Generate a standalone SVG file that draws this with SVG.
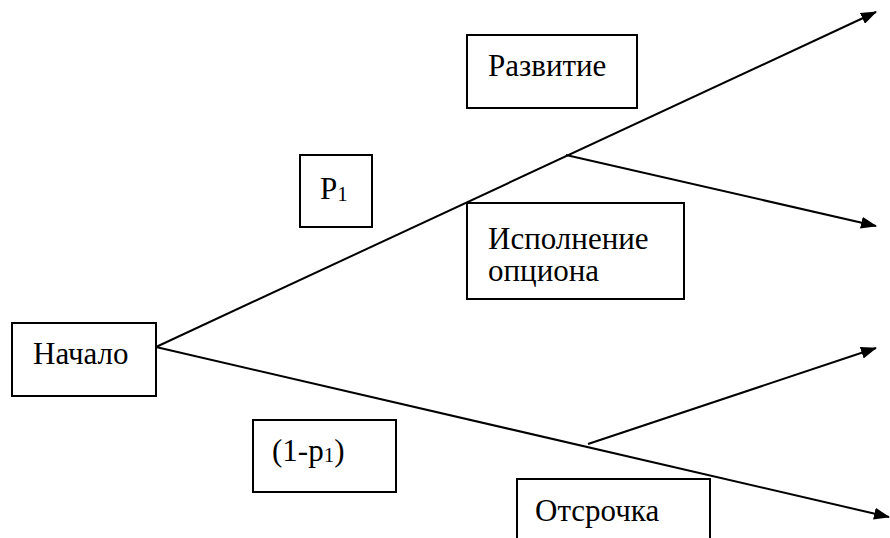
<svg xmlns="http://www.w3.org/2000/svg" width="890" height="538" viewBox="0 0 890 538">
<style>
.box{fill:#fff;stroke:#000;stroke-width:2}
.t{font-family:'Liberation Serif','Times New Roman',serif;font-size:31px;fill:#000}
.c{stroke:#000;stroke-width:2;fill:none}
</style>
<defs>
<marker id="ah" viewBox="0 0 16 12" refX="15" refY="6" markerWidth="16" markerHeight="12" markerUnits="userSpaceOnUse" orient="auto">
<path d="M0,0 L16,6 L0,12 z" fill="#000"/>
</marker>
</defs>
<rect width="890" height="538" fill="#fff"/>
<g id="connectors">
<line class="c" x1="156" y1="347" x2="876" y2="12" marker-end="url(#ah)"/>
<line class="c" x1="566" y1="155" x2="876" y2="226" marker-end="url(#ah)"/>
<line class="c" x1="156" y1="347" x2="889" y2="517" marker-end="url(#ah)"/>
<line class="c" x1="588" y1="444" x2="876" y2="348" marker-end="url(#ah)"/>
</g>
<g id="start">
<rect class="box" x="12" y="323" width="144" height="73"/>
<text class="t" x="33" y="364">Начало</text>
</g>
<g id="razvitie">
<rect class="box" x="467" y="35" width="170" height="73"/>
<text class="t" x="488" y="76">Развитие</text>
</g>
<g id="ispolnenie">
<rect class="box" x="467" y="203" width="217" height="96"/>
<text class="t" x="488" y="249">Исполнение</text>
<text class="t" x="488" y="281">опциона</text>
</g>
<g id="p1">
<rect class="box" x="300" y="155" width="72" height="72"/>
<text class="t" x="320" y="199">P<tspan font-size="21" dy="2">1</tspan></text>
</g>
<g id="q1">
<rect class="box" x="253" y="420" width="143" height="72"/>
<text class="t" x="272" y="461">(1-p<tspan font-size="21" dy="1">1</tspan><tspan dy="-1">)</tspan></text>
</g>
<g id="otsrochka">
<path class="box" d="M517,545 L517,479 L710,479 L710,545"/>
<text class="t" x="535" y="521">Отсрочка</text>
</g>
</svg>
